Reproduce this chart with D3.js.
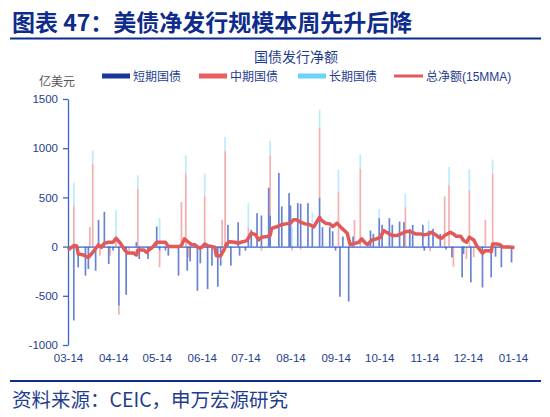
<!DOCTYPE html>
<html>
<head>
<meta charset="utf-8">
<script src="https://cdn.jsdelivr.net/npm/d3@7"></script>
<style>
body{margin:0;background:#fff}
svg{display:block}
</style>
</head>
<body>
<script>
'use strict';
// x axis tick dates and y ticks
const tickDates = ["2023-03-14","2023-04-14","2023-05-14","2023-06-14","2023-07-14","2023-08-14",
    "2023-09-14","2023-10-14","2023-11-14","2023-12-14","2024-01-14"]
const yTicks = [-1000, -500, 0, 500, 1000, 1500]
const seriesNames = ["短期国债", "中期国债", "长期国债", "总净额(15MMA)"]

// net issuance per settlement day (亿美元)
const barDates = ["2023-03-18","2023-03-21","2023-03-26","2023-03-28","2023-03-29","2023-03-31","2023-04-02","2023-04-04",
    "2023-04-05","2023-04-08","2023-04-11","2023-04-12","2023-04-14","2023-04-16","2023-04-18","2023-04-23","2023-04-25",
    "2023-04-30","2023-05-01","2023-05-02","2023-05-08","2023-05-14","2023-05-16","2023-05-20","2023-05-22","2023-05-29",
    "2023-05-31","2023-06-03","2023-06-04","2023-06-05","2023-06-06","2023-06-11","2023-06-13","2023-06-16","2023-06-18",
    "2023-06-21","2023-06-25","2023-06-27","2023-06-28","2023-06-30","2023-07-02","2023-07-04","2023-07-09","2023-07-10",
    "2023-07-14","2023-07-16","2023-07-18","2023-07-22","2023-07-25","2023-07-30","2023-07-31","2023-08-06","2023-08-08",
    "2023-08-13","2023-08-14","2023-08-15","2023-08-19","2023-08-21","2023-08-26","2023-08-29","2023-09-03","2023-09-05",
    "2023-09-10","2023-09-12","2023-09-14","2023-09-16","2023-09-17","2023-09-19","2023-09-23","2023-09-26","2023-09-27",
    "2023-10-01","2023-10-08","2023-10-10","2023-10-14","2023-10-16","2023-10-21","2023-10-23","2023-10-28","2023-10-31",
    "2023-11-01","2023-11-04","2023-11-06","2023-11-13","2023-11-14","2023-11-17","2023-11-18","2023-11-20","2023-11-25",
    "2023-11-28","2023-11-29","2023-12-01","2023-12-03","2023-12-04","2023-12-10","2023-12-11","2023-12-13","2023-12-15",
    "2023-12-16","2023-12-18","2023-12-24","2023-12-26","2023-12-30","2023-12-31","2024-01-02","2024-01-06","2024-01-13"]
const shortTerm = [-750,-211,-296,-228,0,0,-245,272,
    0,354,-177,0,-40,0,-600,-490,0,
    44,0,-126,-126,204,-40,-40,-92,-296,
    0,0,-245,0,-150,-449,-170,0,-432,
    -194,-408,-194,0,0,221,-194,248,-92,
    -41,100,170,340,316,598,316,748,408,
    544,418,0,442,435,442,197,496,197,
    197,156,-41,0,-510,102,-558,102,0,
    0,163,129,289,221,289,221,255,248,
    0,180,221,221,-41,163,0,180,129,
    0,-30,0,-109,0,-313,-75,0,0,
    -364,0,-415,0,-313,0,-102,-211,-160]
const midTerm = [420,0,0,0,197,843,0,0,
    -92,0,0,-92,0,70,-90,0,-58,
    0,585,0,0,0,-170,0,0,0,
    452,741,0,-109,0,0,0,520,0,
    0,0,0,272,969,0,0,0,0,
    0,95,0,0,-41,0,612,0,0,
    0,0,-40,0,-30,0,0,714,0,
    0,0,0,554,0,0,0,0,272,
    792,0,0,0,0,0,0,0,0,
    401,0,0,0,0,0,-48,0,0,
    510,0,622,0,-204,0,0,-126,571,
    0,-109,0,272,0,741,0,0,0]
const longTerm = [230,0,0,0,0,136,0,0,
    0,0,0,0,0,300,0,0,0,
    0,139,0,0,0,290,0,0,0,
    0,187,0,0,0,0,0,221,0,
    0,0,0,0,146,0,0,0,0,
    0,245,0,0,0,0,146,0,0,
    0,0,200,0,0,0,153,180,0,
    0,0,0,228,0,0,0,0,0,
    146,0,0,95,0,0,0,0,0,
    136,0,0,0,0,100,0,0,0,
    0,0,187,0,0,0,0,0,214,
    0,0,0,0,0,143,0,0,0]

// 15-day moving average of total net issuance
const lineDates = ["2023-03-14","2023-03-18","2023-03-20","2023-03-21","2023-03-24","2023-03-28","2023-03-31","2023-04-04",
    "2023-04-06","2023-04-08","2023-04-11","2023-04-14","2023-04-16","2023-04-19","2023-04-22","2023-04-24","2023-04-28",
    "2023-04-30","2023-05-01","2023-05-05","2023-05-07","2023-05-09","2023-05-11","2023-05-14","2023-05-20","2023-05-22",
    "2023-05-29","2023-05-31","2023-06-02","2023-06-05","2023-06-07","2023-06-09","2023-06-12","2023-06-14","2023-06-16",
    "2023-06-18","2023-06-21","2023-06-23","2023-06-24","2023-06-27","2023-06-29","2023-07-01","2023-07-03","2023-07-07",
    "2023-07-09","2023-07-11","2023-07-15","2023-07-18","2023-07-21","2023-07-23","2023-07-25","2023-07-29","2023-07-31",
    "2023-08-01","2023-08-05","2023-08-08","2023-08-11","2023-08-14","2023-08-16","2023-08-18","2023-08-21","2023-08-24",
    "2023-08-27","2023-08-30","2023-09-01","2023-09-03","2023-09-04","2023-09-07","2023-09-10","2023-09-12","2023-09-15",
    "2023-09-18","2023-09-20","2023-09-22","2023-09-24","2023-09-26","2023-09-30","2023-10-02","2023-10-04","2023-10-06",
    "2023-10-09","2023-10-12","2023-10-15","2023-10-17","2023-10-19","2023-10-23","2023-10-26","2023-10-29","2023-11-01",
    "2023-11-04","2023-11-08","2023-11-11","2023-11-14","2023-11-17","2023-11-19","2023-11-21","2023-11-24","2023-11-26",
    "2023-11-28","2023-12-02","2023-12-04","2023-12-06","2023-12-09","2023-12-11","2023-12-13","2023-12-15","2023-12-18",
    "2023-12-20","2023-12-24","2023-12-26","2023-12-29","2023-12-30","2023-12-31","2024-01-03","2024-01-05","2024-01-07",
    "2024-01-11","2024-01-15"]
const lineValues = [-34,10,7,-75,-82,-109,-58,17,
    -7,34,44,44,85,34,-34,-65,-65,
    -85,-34,-34,-58,-30,-7,44,44,0,
    0,10,78,44,20,20,-14,-7,27,
    10,0,-7,-92,-92,-41,27,50,44,
    34,44,61,136,122,68,95,102,115,
    185,204,224,231,238,272,272,248,231,
    224,200,250,299,272,238,231,204,238,
    190,163,136,20,27,44,78,44,20,
    68,78,95,163,146,112,112,129,150,
    156,129,129,119,129,146,129,95,85,
    112,146,129,105,105,61,44,95,68,
    10,-68,-41,-41,-54,27,27,20,-5,
    -3,-8]

const parse = d3.timeParse("%Y-%m-%d")
const W = 550, H = 417
const navy = "#0d2c8c", textBlue = "#1f3d8f", axisBlue = "#3a64c8"
const colors = {short: "#2a4fbf", mid: "#e8615f", long: "#6ad3fb"}
const swatch = {short: "#17379a", mid: "#e8615f", long: "#6ad3fb", line: "#e15a5a"}
const font = "'Liberation Sans', Arial, 'Noto Sans CJK SC', sans-serif"
const cjk = "'Noto Sans CJK SC', 'Liberation Sans', sans-serif"

let svg = d3.select("body").append("svg").attr("width", W).attr("height", H)

let x = d3.scaleTime().domain([parse(tickDates[0]), parse(tickDates[tickDates.length - 1])]).range([68, 513])
let y = d3.scaleLinear().domain([-1000, 1500]).range([345, 99])

// header
svg.append("text").attr("x", 12).attr("y", 31).text("图表 47：美债净发行规模本周先升后降")
    .attr("font-family", cjk).attr("font-weight", 700).attr("font-size", 23).attr("fill", navy)
svg.append("line").attr("x1", 10).attr("x2", 541).attr("y1", 38.5).attr("y2", 38.5)
    .attr("stroke", navy).attr("stroke-width", 2)

svg.append("text").attr("x", 296).attr("y", 62).attr("text-anchor", "middle").text("国债发行净额")
    .attr("font-family", cjk).attr("font-size", 14).attr("fill", textBlue)
svg.append("text").attr("x", 57).attr("y", 86).attr("text-anchor", "middle").text("亿美元")
    .attr("font-family", cjk).attr("font-size", 12).attr("fill", "#555")

// legend
const legendX = [102, 199, 298, 394]
const legendKeys = ["short", "mid", "long", "line"]
let legend = svg.append("g").selectAll("g").data(legendKeys).enter().append("g")
    .attr("transform", (d, i) => `translate(${legendX[i]}, 76)`)
legend.filter(d => d !== "line").append("rect")
    .attr("x", 0).attr("y", -2.5).attr("width", 28).attr("height", 5).attr("fill", d => swatch[d])
legend.filter(d => d === "line").append("line")
    .attr("x1", 0).attr("x2", 29).attr("y1", 0).attr("y2", 0)
    .attr("stroke", swatch.line).attr("stroke-width", 3)
legend.append("text").attr("x", (d) => d === "line" ? 32 : 31).attr("y", 4.5)
    .text((d, i) => seriesNames[i])
    .attr("font-family", font).attr("font-size", 12).attr("fill", textBlue)

// stacked bars
let rows = barDates.map((d, i) => ({date: parse(d), short: shortTerm[i], mid: midTerm[i], long: longTerm[i]}))
let stacked = d3.stack().keys(["short", "mid", "long"]).offset(d3.stackOffsetDiverging)(rows)
const bw = 1.7
svg.append("g").selectAll("g").data(stacked).enter().append("g")
    .attr("fill", d => colors[d.key])
    .attr("fill-opacity", d => d.key === "short" ? 0.7 : (d.key === "mid" ? 0.5 : 0.45))
    .selectAll("rect").data(d => d.filter(s => s[1] !== s[0])).enter().append("rect")
    .attr("x", d => x(d.data.date) - bw / 2)
    .attr("width", bw)
    .attr("y", d => y(Math.max(d[0], d[1])))
    .attr("height", d => Math.abs(y(d[0]) - y(d[1])))

// axes
let yAxis = svg.append("g").attr("transform", "translate(68,0)")
    .call(d3.axisLeft(y).tickValues(yTicks).tickFormat(d => String(d)).tickSize(5).tickSizeOuter(0).tickPadding(5))
yAxis.select(".domain").attr("stroke", axisBlue).attr("stroke-width", 1.3)
yAxis.selectAll(".tick line").attr("stroke", axisBlue).attr("stroke-width", 1.3)
yAxis.selectAll(".tick text").attr("font-family", font).attr("font-size", 11.5).attr("fill", textBlue)

let zeroAxis = svg.append("g").attr("transform", `translate(0,${y(0)})`)
    .call(d3.axisBottom(x).tickValues([]).tickSizeOuter(0))
zeroAxis.select(".domain").attr("stroke", axisBlue).attr("stroke-width", 1.3)

let xAxis = svg.append("g").attr("transform", "translate(0,350)")
    .call(d3.axisBottom(x).tickValues(tickDates.map(parse)).tickFormat(d3.timeFormat("%m-%d")).tickSize(0).tickPadding(4))
xAxis.select(".domain").remove()
xAxis.selectAll(".tick text").attr("font-family", font).attr("font-size", 11.5).attr("fill", textBlue)

// moving average line
let line = d3.line().x(d => x(d[0])).y(d => y(d[1]))
svg.append("path").datum(lineDates.map((d, i) => [parse(d), lineValues[i]]))
    .attr("d", line).attr("fill", "none").attr("stroke", swatch.line)
    .attr("stroke-width", 3.5).attr("stroke-linejoin", "round")

// footer
svg.append("line").attr("x1", 10).attr("x2", 541).attr("y1", 381).attr("y2", 381)
    .attr("stroke", navy).attr("stroke-width", 2)
svg.append("text").attr("x", 12).attr("y", 407).text("资料来源：CEIC，申万宏源研究")
    .attr("font-family", cjk).attr("font-size", 19.5).attr("fill", textBlue)
</script>
</body>
</html>
